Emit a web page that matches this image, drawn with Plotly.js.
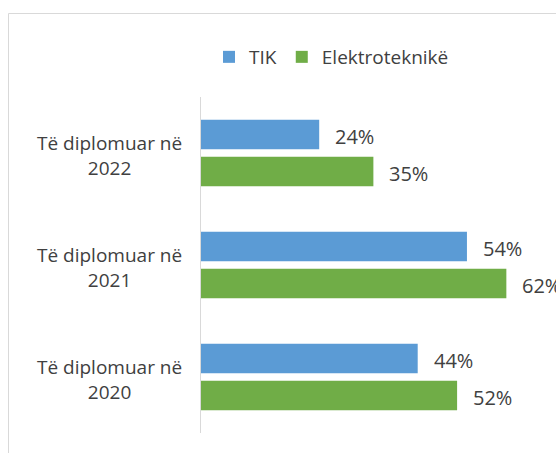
<!DOCTYPE html>
<html>
<head>
<meta charset="utf-8">
<script src="https://cdn.plot.ly/plotly-3.0.1.min.js"></script>
<style>
html,body{margin:0;padding:0;overflow:hidden;background:#fff;width:556px;height:453px;}
#chart{width:616px;height:453px;}
</style>
</head>
<body>
<div id="chart"></div>
<script>
// Data
const categories = ['Të diplomuar në<br>2022', 'Të diplomuar në<br>2021', 'Të diplomuar në<br>2020'];
const seriesNames = ['TIK', 'Elektroteknikë'];
const tikValues = [24, 54, 44];
const elekValues = [35, 62, 52];

const colors = ['#5b9bd5', '#70ad47'];
const textColor = '#404040';
const font = 'Open Sans, Noto Sans, sans-serif';

const traces = [
  {type: 'bar', orientation: 'h', name: seriesNames[0], y: categories, x: tikValues,
   marker: {color: colors[0]}, hoverinfo: 'skip'},
  {type: 'bar', orientation: 'h', name: seriesNames[1], y: categories, x: elekValues,
   marker: {color: colors[1]}, hoverinfo: 'skip'}
];

const W = 616, mL = 201, mR = 21, mT = 97, mB = 20, H = 453;
const plotW = W - mL - mR, plotH = H - mT - mB;
const px2paperX = p => (p - mL) / plotW;
const px2paperY = p => 1 - (p - mT) / plotH;

const annotations = [];
// Category labels (centered multi-line)
categories.forEach((c, i) => {
  annotations.push({xref: 'paper', yref: 'y', x: px2paperX(109.5), y: i, text: c,
    showarrow: false, xanchor: 'center', yanchor: 'middle', align: 'center', yshift: -2,
    font: {family: font, size: 19, color: textColor}});
});
// Value labels
const barOffset = 0.165;
[tikValues, elekValues].forEach((vals, s) => {
  vals.forEach((v, i) => {
    annotations.push({xref: 'x', yref: 'y', x: v, y: i + (s === 0 ? -barOffset : barOffset),
      text: v + '%', showarrow: false, xanchor: 'left', yanchor: 'middle', xshift: 14, yshift: -2,
      font: {family: font, size: 20, color: textColor}});
  });
});

const layout = {
  width: W, height: H,
  margin: {l: mL, r: mR, t: mT, b: mB, pad: 0},
  paper_bgcolor: '#ffffff', plot_bgcolor: '#ffffff',
  barmode: 'group', bargap: 0.34, bargroupgap: 0.2,
  font: {family: font, color: textColor},
  xaxis: {range: [0, 80], showgrid: false, zeroline: false, showticklabels: false, showline: false, ticks: ''},
  yaxis: {type: 'category', autorange: 'reversed', showticklabels: false, ticks: '', showgrid: false,
          zeroline: false, showline: true, linecolor: '#d9d9d9', linewidth: 1.5},
  showlegend: true,
  legend: {orientation: 'h', x: px2paperX(209), xanchor: 'left', y: px2paperY(57), yanchor: 'middle',
           font: {family: font, size: 19, color: textColor}, bgcolor: 'rgba(0,0,0,0)'},
  annotations: annotations,
  shapes: [{type: 'rect', xref: 'paper', yref: 'paper', x0: px2paperX(8.5), x1: 1.3,
            y0: -0.3, y1: px2paperY(13.5), line: {color: '#d9d9d9', width: 1}, fillcolor: 'rgba(0,0,0,0)', layer: 'below'}]
};

Plotly.newPlot('chart', traces, layout, {staticPlot: true, displayModeBar: false});
</script>
</body>
</html>
